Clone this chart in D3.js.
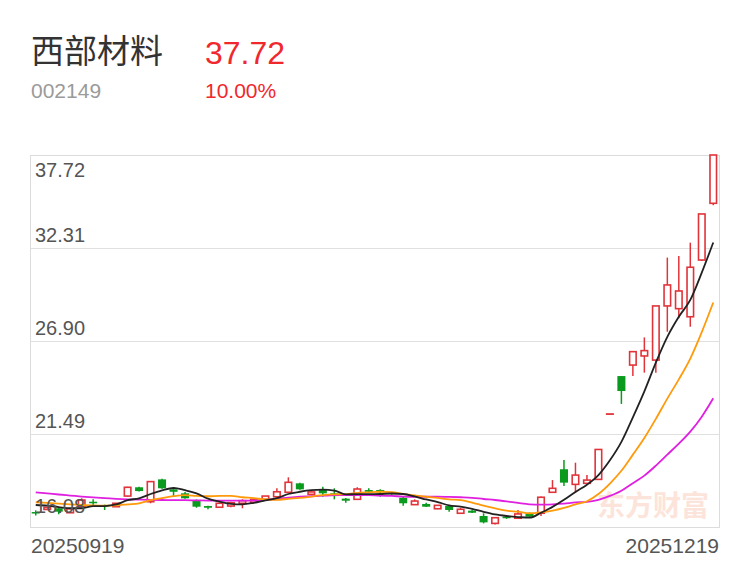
<!DOCTYPE html>
<html><head><meta charset="utf-8">
<script src="https://cdn.jsdelivr.net/npm/d3@7/dist/d3.min.js"></script>
<style>html,body{margin:0;padding:0;background:#fff;}svg{display:block;}</style>
</head><body>
<svg id="chart" width="750" height="562"></svg>
<script>
const stockName = "西部材料";
const stockCode = "002149";
const lastPrice = "37.72";
const changePct = "10.00%";
const dates = ["20250919","20250922","20250923","20250924","20250925","20250926","20250929","20250930","20251009","20251010",
"20251013","20251014","20251015","20251016","20251017","20251020","20251021","20251022","20251023","20251024",
"20251027","20251028","20251029","20251030","20251031","20251103","20251104","20251105","20251106","20251107",
"20251110","20251111","20251112","20251113","20251114","20251117","20251118","20251119","20251120","20251121",
"20251124","20251125","20251126","20251127","20251128","20251201","20251202","20251203","20251204","20251205",
"20251208","20251209","20251210","20251211","20251212","20251215","20251216","20251217","20251218","20251219"];
const open  = [16.95,17.10,17.17,16.91,17.26,17.55,17.36,17.26,17.88,18.39,17.55,18.85,18.27,18.04,17.65,17.30,17.23,17.30,17.46,17.52,
17.69,17.84,18.10,18.62,17.98,18.23,18.04,17.73,17.69,18.23,18.23,18.08,17.78,17.38,17.42,17.14,17.30,16.88,17.03,16.72,
16.29,16.68,16.59,16.88,16.88,18.10,19.44,18.56,18.62,18.85,22.65,24.86,25.50,26.03,25.79,28.94,28.78,28.31,31.61,34.91];
const high  = [17.05,17.25,17.22,17.16,17.75,17.69,17.38,17.48,18.42,18.42,18.75,18.88,18.40,18.12,17.68,17.32,17.50,17.55,17.69,17.72,
17.90,18.33,18.97,18.65,18.15,18.42,18.33,17.76,18.39,18.33,18.27,18.12,17.82,17.69,17.49,17.36,17.32,17.20,17.07,16.88,
16.64,16.72,17.07,16.92,17.85,18.81,19.98,19.82,19.10,20.60,22.65,24.86,26.28,27.11,28.94,31.75,31.84,32.62,34.29,37.72];
const low   = [16.75,17.08,16.82,16.90,17.24,17.26,17.07,17.24,17.85,18.15,17.46,18.30,17.88,17.72,17.20,17.11,17.20,17.23,17.17,17.50,
17.67,17.82,18.04,18.25,17.96,17.84,17.69,17.49,17.67,18.10,17.84,17.95,17.32,17.36,17.24,17.12,16.97,16.86,16.89,16.29,
16.23,16.55,16.55,16.65,16.72,18.08,18.47,18.08,18.60,18.83,22.65,23.24,24.86,25.06,25.06,27.44,28.22,27.73,31.55,34.80];
const close = [16.88,17.22,16.97,17.14,17.65,17.46,17.26,17.46,18.39,18.17,18.72,18.33,18.13,17.75,17.26,17.20,17.46,17.49,17.61,17.69,
17.88,18.13,18.68,18.27,18.12,18.04,17.88,17.61,18.29,18.13,18.10,18.00,17.46,17.59,17.26,17.34,17.07,17.11,16.91,16.35,
16.62,16.59,16.84,16.68,17.81,18.33,18.66,19.10,18.81,20.59,22.65,23.99,26.28,26.34,28.94,30.16,29.81,31.19,34.29,37.72];
const ma5  = [17.36,17.32,17.24,17.17,17.17,17.29,17.30,17.39,17.64,17.75,18.00,18.21,18.35,18.22,18.04,17.73,17.56,17.43,17.40,17.49,
17.63,17.76,18.00,18.13,18.22,18.25,18.20,17.98,17.99,17.99,18.00,18.03,18.00,17.86,17.68,17.53,17.34,17.27,17.14,16.96,
16.81,16.72,16.66,16.62,16.91,17.25,17.66,18.12,18.54,19.10,19.96,21.03,22.46,23.97,25.64,27.14,28.31,29.29,30.88,32.63];
const ma10 = [17.52,17.48,17.44,17.40,17.36,17.33,17.32,17.34,17.40,17.46,17.64,17.76,17.87,17.93,17.89,17.87,17.89,17.89,17.81,17.76,
17.68,17.66,17.72,17.77,17.85,17.94,17.98,17.99,18.06,18.10,18.13,18.11,17.99,17.92,17.84,17.77,17.69,17.64,17.50,17.32,
17.17,17.03,16.97,16.88,16.93,17.03,17.19,17.39,17.58,18.00,18.61,19.35,20.29,21.26,22.37,23.55,24.67,25.88,27.42,29.14];
const ma20 = [18.10,18.04,17.97,17.91,17.85,17.80,17.76,17.72,17.69,17.67,17.66,17.65,17.64,17.64,17.63,17.62,17.62,17.61,17.61,17.61,
17.66,17.71,17.79,17.85,17.87,17.90,17.93,17.94,17.94,17.93,17.90,17.89,17.85,17.84,17.84,17.85,17.83,17.81,17.78,17.71,
17.65,17.57,17.48,17.40,17.38,17.40,17.44,17.51,17.54,17.66,17.89,18.19,18.63,19.07,19.65,20.29,20.93,21.63,22.50,23.57];
const yTickValues = [37.72, 32.31, 26.90, 21.49, 16.08];
const yTickLabels = ["37.72","32.31","26.90","21.49","16.08"];
const watermark = "东方财富";

const svg = d3.select("#chart");
const L = 30, R = 719, T = 155, B = 527;
const RED = "#e0343a", GREEN = "#0a9b1e";

// header
svg.append("text").attr("x", 31).attr("y", 63).text(stockName)
  .attr("font-family", "'Noto Sans CJK SC', sans-serif").attr("font-size", 33).attr("fill", "#333");
svg.append("text").attr("x", 205).attr("y", 64).text(lastPrice)
  .attr("font-family", "'Liberation Sans', Arial, sans-serif").attr("font-size", 32).attr("fill", "#f0282d");
svg.append("text").attr("x", 31).attr("y", 98).text(stockCode)
  .attr("font-family", "'Liberation Sans', Arial, sans-serif").attr("font-size", 21).attr("fill", "#9a9a9a");
svg.append("text").attr("x", 205).attr("y", 98).text(changePct)
  .attr("font-family", "'Liberation Sans', Arial, sans-serif").attr("font-size", 21).attr("fill", "#f0282d");

const x = d3.scaleBand().domain(dates).range([L, R]).paddingInner(0.3).paddingOuter(0.15);
const y = d3.scaleLinear().domain([16.08, 37.72]).range([B, T]);

// watermark
svg.append("text").attr("x", 597).attr("y", 516).text(watermark)
  .attr("font-family", "'Noto Sans CJK SC', sans-serif").attr("font-weight", 700)
  .attr("font-size", 28).attr("fill", "#fde4da");

// grid & frame
const grid = svg.append("g");
grid.selectAll("line").data(yTickValues.slice(1, 4)).join("line")
  .attr("x1", L).attr("x2", R).attr("y1", d => Math.round(y(d)) + 0.5).attr("y2", d => Math.round(y(d)) + 0.5)
  .attr("stroke", "#e0e0e0").attr("stroke-width", 1);
svg.append("rect").attr("x", L + 0.5).attr("y", T + 0.5).attr("width", R - L).attr("height", B - T)
  .attr("fill", "none").attr("stroke", "#dcdcdc").attr("stroke-width", 1);

// candles
const bw = x.bandwidth();
const data = dates.map((d, i) => ({d, o: open[i], h: high[i], l: low[i], c: close[i]}));
const cg = svg.append("g");
data.forEach(k => {
  const cx = x(k.d) + bw / 2;
  const up = k.c >= k.o;
  const top = y(Math.max(k.o, k.c)), bot = y(Math.min(k.o, k.c));
  if (up) {
    if (y(k.h) < top - 0.5) cg.append("line").attr("x1", cx).attr("x2", cx).attr("y1", y(k.h)).attr("y2", top).attr("stroke", RED).attr("stroke-width", 1.5);
    if (y(k.l) > bot + 0.5) cg.append("line").attr("x1", cx).attr("x2", cx).attr("y1", bot).attr("y2", y(k.l)).attr("stroke", RED).attr("stroke-width", 1.5);
    if (bot - top < 1) {
      cg.append("line").attr("x1", x(k.d)).attr("x2", x(k.d) + bw).attr("y1", top).attr("y2", top).attr("stroke", RED).attr("stroke-width", 1.8);
    } else {
      cg.append("rect").attr("x", x(k.d) + 0.75).attr("y", top).attr("width", bw - 1.5).attr("height", bot - top)
        .attr("fill", "#fff").attr("stroke", RED).attr("stroke-width", 1.6);
    }
  } else {
    cg.append("line").attr("x1", cx).attr("x2", cx).attr("y1", y(k.h)).attr("y2", y(k.l)).attr("stroke", GREEN).attr("stroke-width", 1.5);
    cg.append("rect").attr("x", x(k.d)).attr("y", top).attr("width", bw).attr("height", Math.max(1.5, bot - top)).attr("fill", GREEN);
  }
});

// moving averages
const line = arr => d3.line().x((v, i) => x(dates[i]) + bw / 2).y(v => y(v)).curve(d3.curveMonotoneX)(arr);
[[ma20, "#e020e0"], [ma10, "#ff9a0a"], [ma5, "#222"]].forEach(([arr, col]) => {
  svg.append("path").attr("d", line(arr)).attr("fill", "none").attr("stroke", col).attr("stroke-width", 1.8);
});

// y labels
const lab = svg.append("g").attr("font-family", "'Liberation Sans', Arial, sans-serif").attr("font-size", 20).attr("fill", "#555");
yTickValues.forEach((v, i) => {
  let yy;
  if (i === 0) yy = y(v) + 22;
  else if (i === yTickValues.length - 1) yy = y(v) - 14;
  else yy = y(v) - 6;
  lab.append("text").attr("x", 35).attr("y", yy).text(yTickLabels[i]);
});

// x labels
const xl = svg.append("g").attr("font-family", "'Liberation Sans', Arial, sans-serif").attr("font-size", 21).attr("fill", "#555");
xl.append("text").attr("x", 31).attr("y", 553).text(dates[0]);
xl.append("text").attr("x", R).attr("y", 553).attr("text-anchor", "end").text(dates[dates.length - 1]);
</script>
</body></html>
